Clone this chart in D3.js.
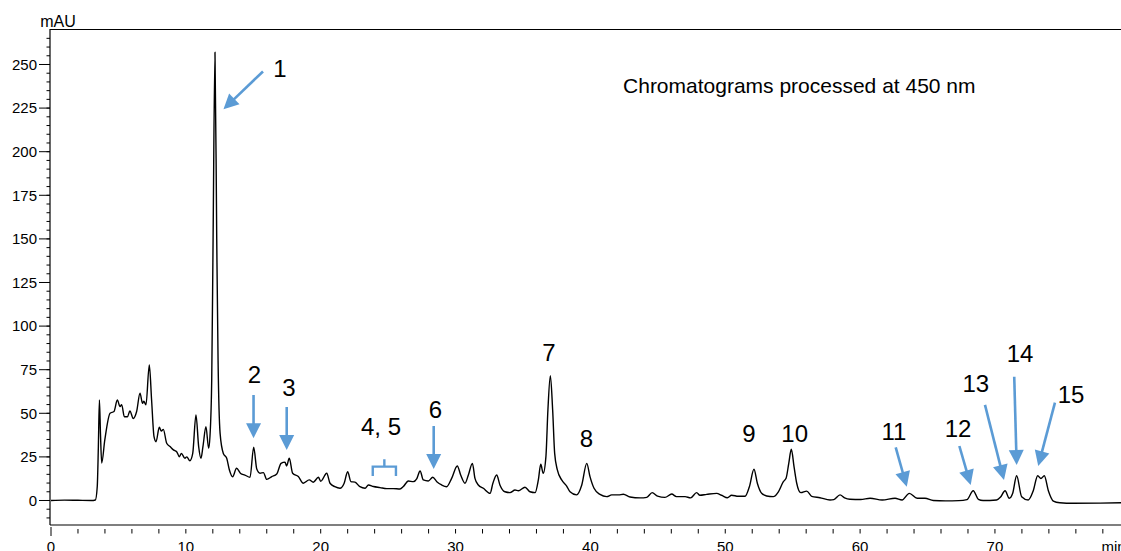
<!DOCTYPE html>
<html>
<head>
<meta charset="utf-8">
<script src="https://cdn.jsdelivr.net/npm/d3@7"></script>
<style>
  html, body { margin: 0; padding: 0; background: #fff; }
  svg { display: block; }
  text { font-family: "Liberation Sans", Arial, sans-serif; }
</style>
</head>
<body>
<svg id="chart" width="1121" height="551"></svg>
<script>
// ---- data ----
const timeMin = [0,1.0,2.0,2.99,3.29,3.43,3.51,3.59,3.67,3.76,3.99,4.38,4.67,4.92,5.12,5.24,5.44,5.67,5.85,6.10,6.35,6.60,6.79,6.88,7.04,7.29,7.46,7.64,7.79,8.03,8.18,8.33,8.58,8.83,9.08,9.32,9.52,9.67,9.93,10.07,10.30,10.51,10.75,10.95,11.12,11.27,11.49,11.69,11.79,11.92,12.02,12.16,12.29,12.39,12.54,12.78,13.03,13.23,13.47,13.76,14.06,14.38,14.76,15.03,15.26,15.50,15.75,16.00,16.37,16.74,17.06,17.35,17.47,17.67,17.92,18.34,18.71,19.15,19.45,19.83,20.00,20.45,20.69,21.05,21.43,21.74,22.00,22.24,22.54,22.91,23.29,23.54,23.91,24.40,24.90,25.38,25.88,26.13,26.50,26.87,27.13,27.37,27.61,27.98,28.31,28.61,28.97,29.34,29.71,30.13,30.38,30.70,30.95,31.25,31.44,31.69,32.06,32.56,32.77,33.05,33.29,33.66,34.04,34.41,34.66,35.15,35.52,35.90,36.14,36.32,36.50,36.70,36.85,37.03,37.20,37.35,37.55,37.87,38.24,38.49,38.98,39.36,39.73,39.97,40.27,40.71,41.21,41.58,42.09,42.44,42.94,43.69,44.18,44.58,44.98,45.53,46.03,46.38,47.02,47.43,47.88,48.12,48.62,49.36,49.73,50.16,50.47,50.97,51.47,51.79,52.13,52.38,52.70,53.07,53.56,53.94,54.31,54.51,54.71,54.90,55.10,55.30,55.60,56.04,56.41,57.02,57.77,58.05,58.51,58.85,59.25,60.04,60.74,61.64,62.59,63.11,63.65,64.23,64.81,65.43,66.33,67.32,67.92,68.39,68.77,69.12,70.12,70.42,70.75,71.06,71.31,71.61,71.98,72.47,72.84,73.17,73.41,73.66,73.96,74.33,74.81,75.8,77.8,79.8];
const absorbance = [0,0.2,0.1,0,0.3,8,30,57.6,38,21.5,34.7,50,51,57.6,53.8,55,48,48,51.3,47,51,61.5,55.7,57,54.8,77.7,57.6,36.6,33.7,42,39.8,40.8,32.8,30.9,29,28,25.1,27,24.2,25,22.8,27,49,30.9,24.2,31,42.3,30,37,70,150,257,150,80,38.5,27,24.2,17.5,13.6,18.5,15.5,14.6,13.3,30.5,18,15.6,16,12.1,13.7,15.2,21.3,22,19.8,24.2,15.6,13.7,9.9,11.8,10.5,13.3,11,15.6,9.9,7.9,7,9.9,16.5,10.8,10.5,7.9,7,8.9,8,7.4,6.8,6.8,6.6,8,11.2,10.8,12.6,16.9,11.8,11.2,13.3,10.8,8.9,7.9,12.7,19.8,14.6,9.9,14.6,21.3,12.7,8.9,7,4.1,9.9,14.6,8.9,5,4.5,6,5.6,7.6,5,4.5,11.8,20.8,15.6,25,52,71.6,52,27,17.5,11.8,8.3,5,3.2,8.9,21.3,13.7,7,3.5,2.2,3.2,3.2,3.6,2.0,1.5,1.8,4.5,2.5,1.8,3.7,2.2,2.2,1.5,4.5,3,3.5,4.1,3,1.6,3,2.4,2.4,7.9,17.9,9.9,4.1,2.6,2.2,5,10.8,12.7,21.3,29.4,19.4,9.9,4.5,5.4,2.4,1.6,0.3,0.5,3.2,1.5,0.7,0.6,1.3,0.3,1.3,0.3,4.1,1.3,1.3,0,-0.2,-0.1,0.5,5.6,0.7,0,0.3,2,5.6,1.3,4,14.2,2.2,0.3,5.6,14.2,12.6,14.2,5.6,-0.3,-1.3,-1.6,-1.5,-1.2];

const xMajorTicks = [0,10,20,30,40,50,60,70];
const yMajorTicks = [0,25,50,75,100,125,150,175,200,225,250];
const xUnit = "min";
const yUnit = "mAU";
const noteText = "Chromatograms processed at 450 nm";

// peak labels: text, label anchor (min, mAU)
const peakLabels = ["1","2","3","4, 5","6","7","8","9","10","11","12","13","14","15"];
const labelTime  = [16.98,15.09,17.65,24.47,28.51,36.93,39.71,51.76,55.15,62.51,67.26,68.58,71.86,75.64];
const labelValue = [242.8,67.4,59.9,37.6,47.3,80.0,30.7,33.5,33.5,34.7,36.2,62.2,79.4,55.9];
// arrows: from (time, value) to (time, value)
const arrowFromT = [15.72,15.02,17.48,28.38,62.64,67.36,69.26,71.43,74.45];
const arrowFromV = [246.0,60.5,53.6,42.7,30.5,31.25,54.8,71.0,56.1];
const arrowToT   = [12.79,15.02,17.48,28.38,63.46,68.20,70.67,71.61,73.21];
const arrowToV   = [224.3,35.7,29.0,18.1,7.9,8.9,11.75,20.4,19.8];
// bracket for peaks 4,5: start/end time, bar value, leg value, tick value
const bracketT = [23.86,25.58];
const bracketV = [19.4,14.0,23.6];

// ---- drawing ----
const svg = d3.select("#chart");
const W = 1121, H = 551;
const padL = 50, padT = 29, padB = 525;
const blue = "#5B9BD5";

const x = d3.scaleLinear().domain([0, 80]).range([51, 1129.8]);
const y = d3.scaleLinear().domain([-14.05, 270.35]).range([padB, padT]);

// frame: top line
svg.append("line").attr("x1", padL).attr("x2", W).attr("y1", padT + 0.5).attr("y2", padT + 0.5)
  .attr("stroke", "#000").attr("stroke-width", 1.2);

// y axis
const yMinor = d3.range(-10, 270, 5);
const yAxisG = svg.append("g").attr("transform", `translate(${padL},0)`);
yAxisG.append("line").attr("x1", 0).attr("x2", 0).attr("y1", padT).attr("y2", padB)
  .attr("stroke", "#000").attr("stroke-width", 1.2);
yAxisG.selectAll("line.minor").data(yMinor).join("line").attr("class", "minor")
  .attr("x1", -3.5).attr("x2", 0).attr("y1", d => y(d)).attr("y2", d => y(d))
  .attr("stroke", "#000").attr("stroke-width", 1);
yAxisG.selectAll("line.major").data(yMajorTicks).join("line").attr("class", "major")
  .attr("x1", -11).attr("x2", 0).attr("y1", d => y(d)).attr("y2", d => y(d))
  .attr("stroke", "#000").attr("stroke-width", 1);
yAxisG.selectAll("text").data(yMajorTicks).join("text")
  .attr("x", -13).attr("y", d => y(d)).attr("dy", "0.35em")
  .attr("text-anchor", "end").attr("font-size", 15).attr("fill", "#000")
  .text(d => d);
svg.append("text").attr("x", 58).attr("y", 26.5).attr("text-anchor", "middle")
  .attr("font-size", 16).text(yUnit);

// x axis
const xMinor = d3.range(0, 80, 2);
const xAxisG = svg.append("g");
xAxisG.append("line").attr("x1", padL).attr("x2", W).attr("y1", padB).attr("y2", padB)
  .attr("stroke", "#000").attr("stroke-width", 1.2);
xAxisG.selectAll("line.tick").data(xMinor).join("line").attr("class", "tick")
  .attr("x1", d => x(d)).attr("x2", d => x(d))
  .attr("y1", d => d === 0 ? padB + 2 : padB + 4).attr("y2", d => d === 0 ? padB + 11 : padB + 8.5)
  .attr("stroke", "#000").attr("stroke-width", 1);
xAxisG.selectAll("text.lbl").data(xMajorTicks).join("text").attr("class", "lbl")
  .attr("x", d => x(d)).attr("y", 552).attr("text-anchor", "middle")
  .attr("font-size", 15).text(d => d);
xAxisG.append("text").attr("x", x(77.9)).attr("y", 552).attr("text-anchor", "start")
  .attr("font-size", 15).text(xUnit);

// trace
const pts = timeMin.map((t, i) => [t, absorbance[i]]);
svg.append("defs").append("clipPath").attr("id", "clip")
  .append("rect").attr("x", padL).attr("y", padT).attr("width", W - padL).attr("height", padB - padT);
const line = d3.line().x(d => x(d[0])).y(d => y(d[1])).curve(d3.curveMonotoneX);
svg.append("path").datum(pts).attr("d", line).attr("fill", "none")
  .attr("stroke", "#000").attr("stroke-width", 1.4).attr("stroke-linejoin", "round")
  .attr("clip-path", "url(#clip)");

// note
svg.append("text").attr("x", x(42.42)).attr("y", y(233.5)).attr("font-size", 21).text(noteText);

// peak labels
svg.selectAll("text.peak").data(peakLabels).join("text").attr("class", "peak")
  .attr("x", (d, i) => x(labelTime[i])).attr("y", (d, i) => y(labelValue[i]))
  .attr("text-anchor", "middle").attr("font-size", 24).attr("fill", "#000")
  .text(d => d);

// arrows
const headLen = 15, headHalf = 7.5;
arrowFromT.forEach((t0, i) => {
  const x0 = x(t0), y0 = y(arrowFromV[i]);
  const x1 = x(arrowToT[i]), y1 = y(arrowToV[i]);
  const dx = x1 - x0, dy = y1 - y0, L = Math.hypot(dx, dy);
  const ux = dx / L, uy = dy / L;
  const bx = x1 - ux * headLen, by = y1 - uy * headLen;
  svg.append("line").attr("x1", x0).attr("y1", y0).attr("x2", bx + ux * 1).attr("y2", by + uy * 1)
    .attr("stroke", blue).attr("stroke-width", 2.6);
  svg.append("path")
    .attr("d", `M${x1},${y1}L${bx - uy * headHalf},${by + ux * headHalf}L${bx + uy * headHalf},${by - ux * headHalf}Z`)
    .attr("fill", blue);
});

// bracket
const bx0 = x(bracketT[0]), bx1 = x(bracketT[1]), bxm = (bx0 + bx1) / 2;
svg.append("path")
  .attr("d", `M${bx0},${y(bracketV[1])}L${bx0},${y(bracketV[0])}L${bx1},${y(bracketV[0])}L${bx1},${y(bracketV[1])}M${bxm},${y(bracketV[0])}L${bxm},${y(bracketV[2])}`)
  .attr("fill", "none").attr("stroke", blue).attr("stroke-width", 2.4);
</script>
</body>
</html>
